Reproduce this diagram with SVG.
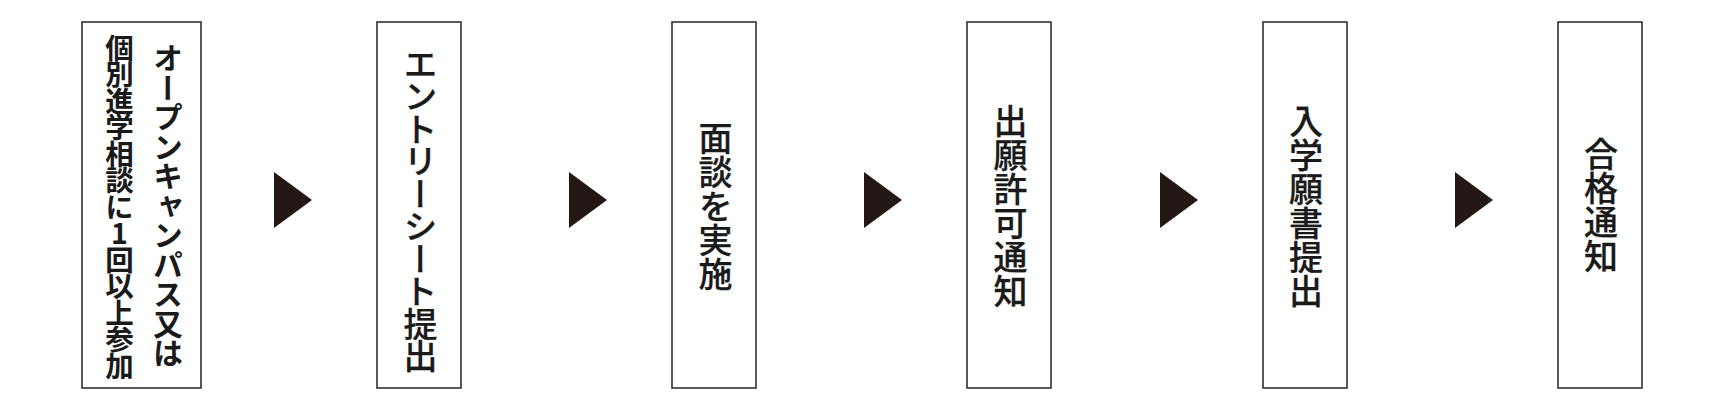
<svg xmlns="http://www.w3.org/2000/svg" width="1730" height="410" viewBox="0 0 1730 410">
<style>
.box{fill:#fff;stroke:#333;stroke-width:1.6}
.arr{fill:#231815}
.t{font-family:"Noto Sans CJK JP","Noto Sans CJK SC",sans-serif;fill:#1a1a1a;writing-mode:vertical-rl;text-anchor:middle;dominant-baseline:central}
.b1{font-size:30px;font-weight:700}
.b2{font-size:28.5px;font-weight:700}
.m{font-size:34px;font-weight:500;stroke:#1a1a1a;stroke-width:0.25}
.up{text-orientation:upright}
</style>
<rect width="1730" height="410" fill="#fff"/>
<g id="connectors">
<polygon class="arr" points="274,172 312,200 274,228"/>
<polygon class="arr" points="569,172 607,200 569,228"/>
<polygon class="arr" points="864,172 902,200 864,228"/>
<polygon class="arr" points="1160,172 1198,200 1160,228"/>
<polygon class="arr" points="1455,172 1493,200 1455,228"/>
</g>
<g id="node1">
<rect class="box" x="82" y="22" width="119" height="366"/>
<text class="t b1" x="168" y="205" letter-spacing="-0.5">オープンキャンパス又は</text>
<text class="t b2 up" x="119.5" y="206" letter-spacing="-2">個別進学相談に1回以上参加</text>
</g>
<g id="node2">
<rect class="box" x="377" y="22" width="84" height="366"/>
<text class="t m" x="420.5" y="209.5" letter-spacing="-1.5">エントリーシート提出</text>
</g>
<g id="node3">
<rect class="box" x="672" y="22" width="84" height="366"/>
<text class="t m" x="715.5" y="206">面談を実施</text>
</g>
<g id="node4">
<rect class="box" x="967" y="22" width="84" height="366"/>
<text class="t m" x="1010.5" y="206.5">出願許可通知</text>
</g>
<g id="node5">
<rect class="box" x="1263" y="22" width="84" height="366"/>
<text class="t m" x="1306" y="206">入学願書提出</text>
</g>
<g id="node6">
<rect class="box" x="1558" y="22" width="84" height="366"/>
<text class="t m" x="1601" y="205.5">合格通知</text>
</g>
</svg>
